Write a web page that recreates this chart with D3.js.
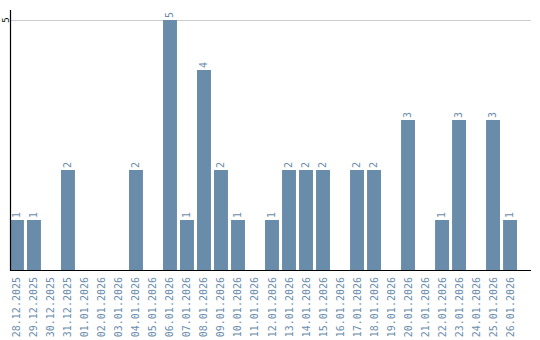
<!DOCTYPE html>
<meta charset="utf-8">
<style>
body { margin: 0; background: #fff; }
text { font: 10px "DejaVu Sans Mono", monospace; }
.bar { fill: #6a8cab; }
.grid { stroke: #ccc; stroke-width: 1px; }
</style>
<body>
<script src="https://cdn.jsdelivr.net/npm/d3@7"></script>
<script>

var days = ["28.12.2025","29.12.2025","30.12.2025","31.12.2025","01.01.2026","02.01.2026",
            "03.01.2026","04.01.2026","05.01.2026","06.01.2026","07.01.2026","08.01.2026",
            "09.01.2026","10.01.2026","11.01.2026","12.01.2026","13.01.2026","14.01.2026",
            "15.01.2026","16.01.2026","17.01.2026","18.01.2026","19.01.2026","20.01.2026",
            "21.01.2026","22.01.2026","23.01.2026","24.01.2026","25.01.2026","26.01.2026"];
var counts = [1,1,0,2,0,0, 0,2,0,5,1,4, 2,1,0,1,2,2, 2,0,2,2,0,3, 0,1,3,0,3,1];
var yTicks = [5];

var width = 540, height = 340;
var left = 10, right = 517, axisEnd = 531, bottom = 270;

var svg = d3.select("body").append("svg")
    .attr("width", width)
    .attr("height", height);

var x = d3.scaleBand()
    .domain(days)
    .range([left, right])
    .paddingInner(0.18)
    .paddingOuter(0)
    .align(0);

var y = d3.scaleLinear()
    .domain([0, 5.2])
    .range([bottom, 10]);

// gridline
svg.selectAll(".grid")
    .data(yTicks)
  .enter().append("line")
    .attr("class", "grid")
    .attr("x1", left)
    .attr("x2", axisEnd)
    .attr("y1", function(d) { return y(d) + 0.5; })
    .attr("y2", function(d) { return y(d) + 0.5; });

var data = days.map(function(d, i) { return {day: d, n: counts[i]}; });

svg.append("g").selectAll("rect")
    .data(data.filter(function(d) { return d.n > 0; }))
  .enter().append("rect")
    .attr("class", "bar")
    .attr("x", function(d) { return x(d.day); })
    .attr("width", x.bandwidth())
    .attr("y", function(d) { return y(d.n); })
    .attr("height", function(d) { return bottom - y(d.n); });

// value labels
svg.append("g").selectAll("text")
    .data(data.filter(function(d) { return d.n > 0; }))
  .enter().append("text")
    .attr("transform", function(d) {
      return "translate(" + (x(d.day) + x.bandwidth() / 2 + 3) + "," + (y(d.n) - 2) + ") rotate(-90)";
    })
    .attr("fill", "#6a8cab")
    .text(function(d) { return d.n; });

// x labels
svg.append("g").selectAll("text")
    .data(days)
  .enter().append("text")
    .attr("transform", function(d) {
      return "translate(" + (x(d) + x.bandwidth() / 2 + 3.5) + "," + (bottom + 7) + ") rotate(-90)";
    })
    .attr("text-anchor", "end")
    .attr("fill", "#6a8cab")
    .text(function(d) { return d; });

// y tick labels
svg.append("g").selectAll("text")
    .data(yTicks)
  .enter().append("text")
    .attr("transform", function(d) { return "translate(8.5," + y(d) + ") rotate(-90)"; })
    .attr("text-anchor", "middle")
    .attr("fill", "#000")
    .style("font-size", "9px")
    .text(function(d) { return d; });

// axes lines
svg.append("line")
    .attr("x1", left + 0.5).attr("x2", left + 0.5)
    .attr("y1", 10).attr("y2", bottom + 1)
    .attr("stroke", "#000").attr("stroke-width", 1.2);

svg.append("line")
    .attr("x1", left).attr("x2", axisEnd)
    .attr("y1", bottom + 0.5).attr("y2", bottom + 0.5)
    .attr("stroke", "#000").attr("stroke-width", 1.2);

</script>
